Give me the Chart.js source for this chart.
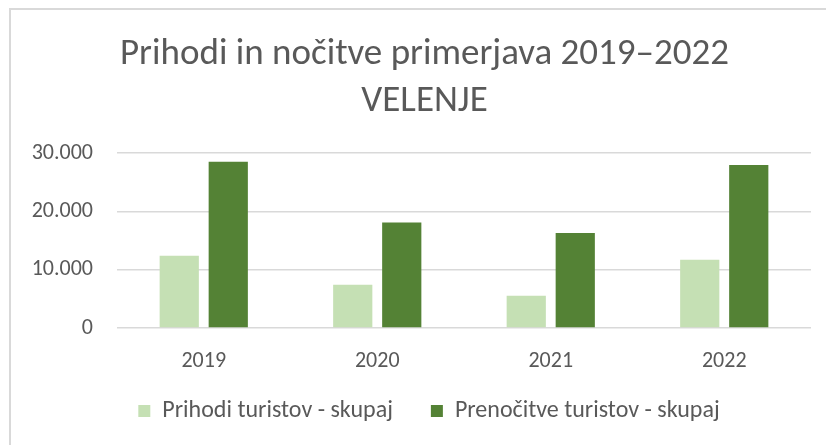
<!DOCTYPE html>
<html>
<head>
<meta charset="utf-8">
<script src="https://cdn.jsdelivr.net/npm/chart.js@4"></script>
<style>
    html, body { margin: 0; padding: 0; background: #fff; overflow: hidden; }
    #wrap { position: relative; width: 826px; height: 445px; }
    #frame {
        position: absolute; left: 9px; top: 8px; width: 900px; height: 500px;
        border-left: 2px solid #d9d9d9; border-top: 2px solid #d9d9d9;
    }
    canvas { position: absolute; left: 0; top: 0; }
</style>
</head>
<body>
<div id="wrap">
    <div id="frame"></div>
    <canvas id="tourismChart" width="826" height="445"></canvas>
</div>
<script>
// ==========================================
// DATA
// ==========================================
const years = ['2019', '2020', '2021', '2022'];
const arrivals = [12400, 7430, 5540, 11710];      // Prihodi turistov - skupaj
const overnights = [28500, 18100, 16290, 27940];  // Prenočitve turistov - skupaj
const seriesNames = ['Prihodi turistov - skupaj', 'Prenočitve turistov - skupaj'];
const titleLines = ['Prihodi in nočitve primerjava 2019–2022', 'VELENJE'];

const FONT = 'Carlito, Lato, sans-serif';
const TEXT = '#595959';

function formatThousands(value) {
    return String(value).replace(/\B(?=(\d{3})+(?!\d))/g, '.');
}

// title and legend are centred over the plot, not the whole canvas;
// legend is lifted a bit so its wide item spacing doesn't eat the plot
const centerOverPlot = {
    id: 'centerOverPlot',
    afterLayout(chart) {
        if (chart.titleBlock) chart.titleBlock.left += 38;
        if (chart.legend) {
            chart.legend.left += 47;
            chart.legend.top -= 12;
        }
    }
};

// ==========================================
// BAR CHART
// ==========================================
function initTourismChart() {
    const ctx = document.getElementById('tourismChart');
    if (!ctx) return;

    new Chart(ctx, {
        type: 'bar',
        data: {
            labels: years,
            datasets: [
                {
                    label: seriesNames[0],
                    data: arrivals,
                    backgroundColor: '#C5E0B4',
                    borderWidth: 0
                },
                {
                    label: seriesNames[1],
                    data: overnights,
                    backgroundColor: '#548235',
                    borderWidth: 0
                }
            ]
        },
        plugins: [centerOverPlot],
        options: {
            responsive: false,
            animation: false,
            devicePixelRatio: 1,
            categoryPercentage: 0.565,
            barPercentage: 0.8,
            layout: {
                padding: { left: 0, right: 15, top: 0, bottom: 0 }
            },
            plugins: {
                title: {
                    display: true,
                    text: titleLines,
                    color: TEXT,
                    font: { family: FONT, size: 37, weight: 'normal', lineHeight: 1.25 },
                    padding: { top: 32, bottom: 28.5 }
                },
                legend: {
                    position: 'bottom',
                    labels: {
                        color: TEXT,
                        boxWidth: 12,
                        boxHeight: 12,
                        padding: 38,
                        font: { family: FONT, size: 24 }
                    }
                },
                tooltip: { enabled: false }
            },
            scales: {
                y: {
                    min: 0,
                    max: 30000,
                    afterFit: function(scale) { scale.width = 117; },
                    grid: {
                        color: '#d9d9d9',
                        lineWidth: 1.5,
                        drawTicks: false
                    },
                    border: { display: false },
                    ticks: {
                        stepSize: 10000,
                        padding: 24,
                        color: TEXT,
                        font: { family: FONT, size: 22 },
                        callback: function(value) { return formatThousands(value); }
                    }
                },
                x: {
                    afterFit: function(scale) { scale.height = 45; },
                    grid: { display: false, drawTicks: false },
                    border: { display: false },
                    ticks: {
                        padding: 20,
                        color: TEXT,
                        font: { family: FONT, size: 22 }
                    }
                }
            }
        }
    });
}

initTourismChart();
</script>
</body>
</html>
